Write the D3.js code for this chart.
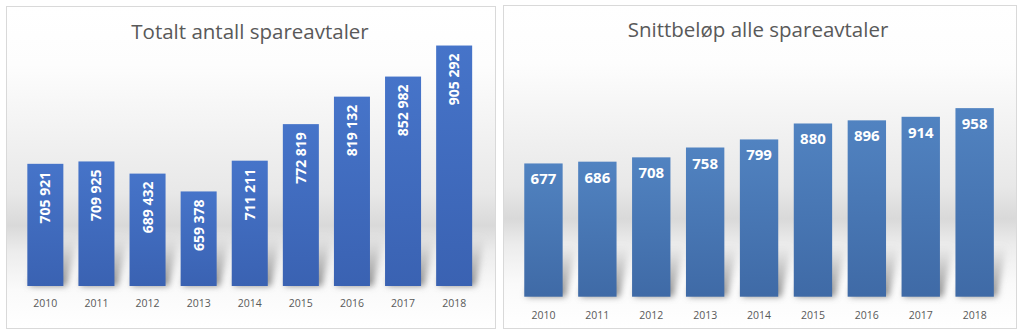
<!DOCTYPE html>
<html>
<head>
<meta charset="utf-8">
<script src="https://cdn.jsdelivr.net/npm/d3@7"></script>
<style>
  html, body { margin: 0; padding: 0; background: #ffffff; }
  svg { display: block; }
  text { font-family: "Open Sans", "Liberation Sans", sans-serif; }
</style>
</head>
<body>
<svg id="chart" width="1024" height="334"></svg>
<script>
// Savings agreements per year
const years = ["2010", "2011", "2012", "2013", "2014", "2015", "2016", "2017", "2018"];
const antallAvtaler = [705921, 709925, 689432, 659378, 711211, 772819, 819132, 852982, 905292];
const snittBelop = [677, 686, 708, 758, 799, 880, 896, 914, 958];
const titles = ["Totalt antall spareavtaler", "Snittbeløp alle spareavtaler"];

const nb = d3.formatLocale({ decimal: ",", thousands: "\u00a0", grouping: [3], currency: ["", " kr"] });
const fmt = nb.format(",d");

const svg = d3.select("#chart");
const defs = svg.append("defs");

// panel backdrop: white top, grey band low down, fading back to white
function panelGradient(id, bandAt) {
  const g = defs.append("linearGradient").attr("id", id)
    .attr("x1", 0).attr("y1", 0).attr("x2", 0).attr("y2", 1);
  [[0, "#ffffff"], [0.18, "#fdfdfd"], [bandAt - 0.1, "#e8e8e8"], [bandAt, "#d9d9d9"],
   [bandAt + 0.08, "#ececec"], [bandAt + 0.2, "#fafafa"], [1, "#ffffff"]]
    .forEach(([o, c]) => g.append("stop").attr("offset", o).attr("stop-color", c));
}
panelGradient("bgL", 0.68);
panelGradient("bgR", 0.66);

function barGradient(id, top, bottom) {
  const g = defs.append("linearGradient").attr("id", id)
    .attr("x1", 0).attr("y1", 0).attr("x2", 0).attr("y2", 1);
  g.append("stop").attr("offset", 0).attr("stop-color", top);
  g.append("stop").attr("offset", 1).attr("stop-color", bottom);
}
barGradient("barL", "#4674c9", "#3a62b2");
barGradient("barR", "#5183c1", "#3f6aa6");

const sg = defs.append("linearGradient").attr("id", "shadowFill")
  .attr("x1", 0).attr("y1", 1).attr("x2", 0).attr("y2", 0);
sg.append("stop").attr("offset", 0).attr("stop-color", "#7a7a7a").attr("stop-opacity", 0.9);
sg.append("stop").attr("offset", 0.6).attr("stop-color", "#9a9a9a").attr("stop-opacity", 0.45);
sg.append("stop").attr("offset", 1).attr("stop-color", "#b5b5b5").attr("stop-opacity", 0.0);

defs.append("filter").attr("id", "soft").attr("x", "-50%").attr("y", "-50%").attr("width", "200%").attr("height", "200%")
  .append("feGaussianBlur").attr("stdDeviation", 3);

function drawPanel(cfg) {
  const g = svg.append("g");
  g.append("rect")
    .attr("x", cfg.box[0] + 0.5).attr("y", cfg.box[1] + 0.5)
    .attr("width", cfg.box[2] - cfg.box[0]).attr("height", cfg.box[3] - cfg.box[1])
    .attr("fill", `url(#${cfg.bg})`).attr("stroke", "#d9d9d9").attr("stroke-width", 1);

  g.append("text")
    .attr("x", cfg.titleX).attr("y", cfg.titleY)
    .attr("text-anchor", "middle")
    .attr("font-size", cfg.titleSize)
    .attr("fill", "#595959")
    .text(cfg.title);

  const x = d3.scaleBand().domain(years).range(cfg.xRange)
    .paddingInner(cfg.padInner).paddingOuter(0.3);
  const y = d3.scaleLinear().domain(cfg.yDomain).range(cfg.yRange);
  const base = cfg.yRange[0];
  const rows = years.map((yr, i) => ({ year: yr, value: cfg.values[i] }));

  // perspective shadows behind bars
  g.append("g").attr("filter", "url(#soft)")
    .selectAll("path").data(rows).join("path")
    .attr("fill", "url(#shadowFill)")
    .attr("d", d => {
      const x0 = x(d.year), w = x.bandwidth();
      const h = cfg.shadowH, sk = cfg.shadowSkew;
      return `M${x0 + 2},${base} L${x0 + w + 3},${base} L${x0 + w + sk},${base - h} L${x0 + sk},${base - h} Z`;
    });

  g.append("g").selectAll("rect").data(rows).join("rect")
    .attr("x", d => x(d.year))
    .attr("y", d => y(d.value))
    .attr("width", x.bandwidth())
    .attr("height", d => base - y(d.value))
    .attr("fill", `url(#${cfg.bar})`);

  // category axis (labels only)
  const axis = g.append("g")
    .attr("transform", `translate(0,${base})`)
    .call(d3.axisBottom(x).tickSize(0).tickPadding(cfg.tickPad));
  axis.select(".domain").remove();
  axis.selectAll("text")
    .attr("font-size", 10.5)
    .attr("fill", "#595959")
    .attr("font-family", "\"Open Sans\", \"Liberation Sans\", sans-serif");

  const labels = g.append("g").selectAll("text").data(rows).join("text")
    .attr("fill", "#ffffff")
    .attr("font-weight", "bold")
    .attr("font-size", cfg.labelSize)
    .text(d => fmt(d.value));
  if (cfg.rotate) {
    labels
      .attr("text-anchor", "end")
      .attr("transform", d => `translate(${x(d.year) + x.bandwidth() / 2 + 5},${y(d.value) + 8}) rotate(-90)`);
  } else {
    labels
      .attr("text-anchor", "middle")
      .attr("x", d => x(d.year) + x.bandwidth() / 2)
      .attr("y", d => y(d.value) + 21);
  }
}

drawPanel({
  box: [6, 6, 495, 328], bg: "bgL", bar: "barL",
  title: titles[0], titleX: 250, titleY: 39, titleSize: 20.5,
  values: antallAvtaler,
  xRange: [12, 487.5], padInner: 0.295,
  yDomain: [500000, 950000], yRange: [286, 19],
  shadowH: 50, shadowSkew: 13, tickPad: 14,
  labelSize: 14, rotate: true
});

drawPanel({
  box: [503, 5, 1016, 328], bg: "bgR", bar: "barR",
  title: titles[1], titleX: 758, titleY: 37, titleSize: 20.5,
  values: snittBelop,
  xRange: [508.1, 1010], padInner: 0.288,
  yDomain: [0, 1200], yRange: [296.7, 60.5],
  shadowH: 52, shadowSkew: 13, tickPad: 15,
  labelSize: 15, rotate: false
});
</script>
</body>
</html>
